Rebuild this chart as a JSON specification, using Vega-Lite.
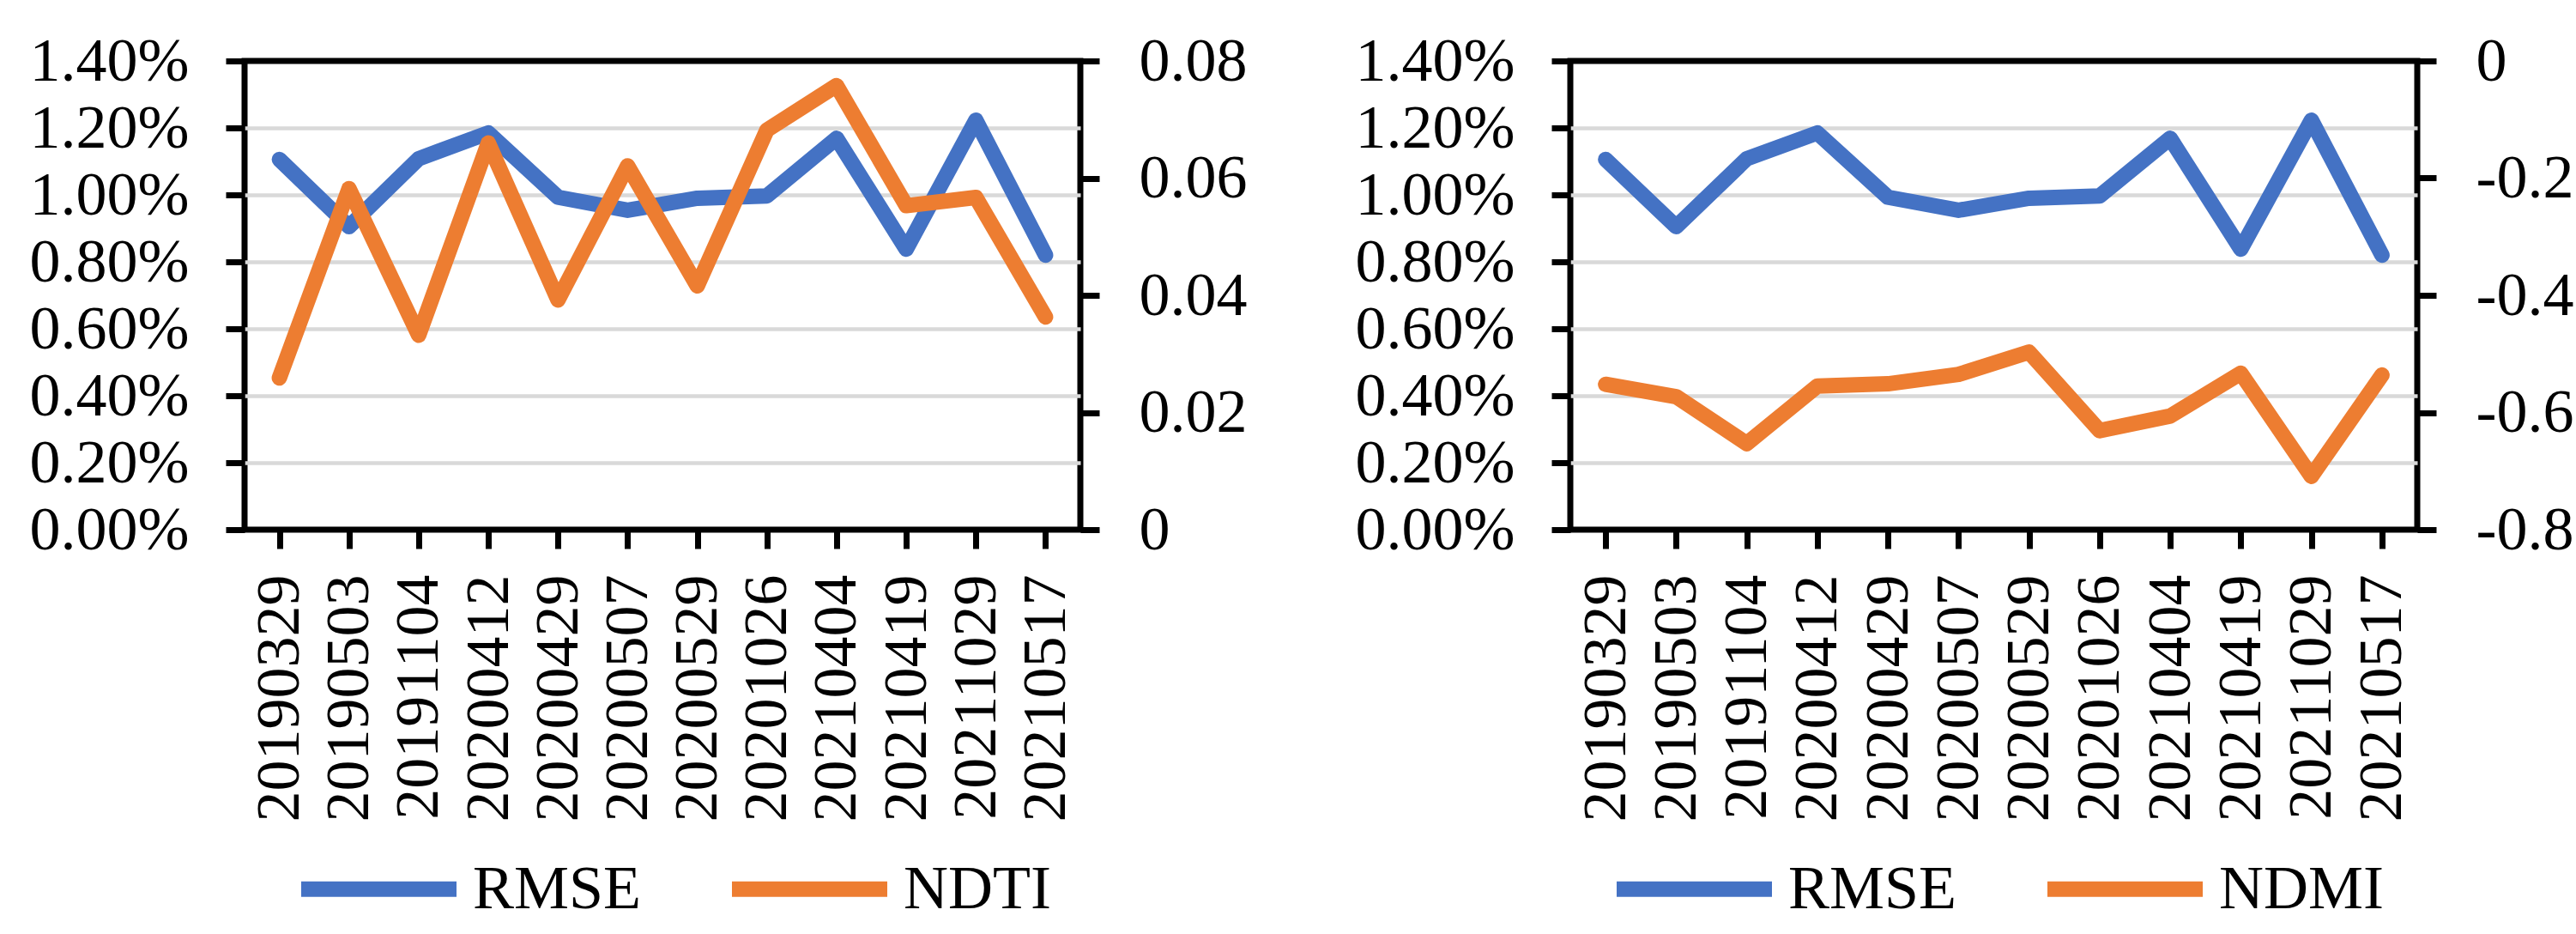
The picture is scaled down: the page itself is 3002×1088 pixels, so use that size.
{
  "$schema": "https://vega.github.io/schema/vega-lite/v6.json",
  "padding": {"left": 30, "top": 31, "right": 0, "bottom": 0},
  "background": "white",
  "datasets": {
    "series": [
      {"date": "20190329", "RMSE": 0.01106, "NDTI": 0.0259, "NDMI": -0.552},
      {"date": "20190503", "RMSE": 0.00905, "NDTI": 0.0582, "NDMI": -0.573},
      {"date": "20191104", "RMSE": 0.01108, "NDTI": 0.0332, "NDMI": -0.653},
      {"date": "20200412", "RMSE": 0.01185, "NDTI": 0.0660, "NDMI": -0.555},
      {"date": "20200429", "RMSE": 0.00993, "NDTI": 0.0392, "NDMI": -0.551},
      {"date": "20200507", "RMSE": 0.00954, "NDTI": 0.0621, "NDMI": -0.535},
      {"date": "20200529", "RMSE": 0.00990, "NDTI": 0.0416, "NDMI": -0.497},
      {"date": "20201026", "RMSE": 0.00997, "NDTI": 0.0682, "NDMI": -0.631},
      {"date": "20210404", "RMSE": 0.01169, "NDTI": 0.0758, "NDMI": -0.606},
      {"date": "20210419", "RMSE": 0.00838, "NDTI": 0.0553, "NDMI": -0.533},
      {"date": "20211029", "RMSE": 0.01223, "NDTI": 0.0567, "NDMI": -0.709},
      {"date": "20210517", "RMSE": 0.00820, "NDTI": 0.0363, "NDMI": -0.536}
    ]
  },
  "spacing": 118,
  "resolve": {"scale": {"color": "independent"}},
  "hconcat": [
    {
      "width": 974,
      "height": 546,
      "data": {"name": "series"},
      "encoding": {
        "x": {
          "field": "date", "type": "ordinal", "sort": null, "title": null,
          "axis": {"labelAngle": -90, "labelPadding": 30}
        }
      },
      "layer": [
        {
          "mark": {"type": "line", "strokeWidth": 18, "strokeCap": "round", "strokeJoin": "round"},
          "encoding": {
            "y": {
              "field": "RMSE", "type": "quantitative", "title": null,
              "scale": {"domain": [0, 0.014], "nice": false, "zero": false},
              "axis": {
                "orient": "left", "format": ".2%",
                "values": [0, 0.002, 0.004, 0.006, 0.008, 0.01, 0.012, 0.014],
                "grid": true, "gridColor": "#D9D9D9", "gridWidth": 4.5,
                "gridOpacity": {"condition": {"test": "datum.value <= 0 || datum.value >= 0.0139", "value": 0}, "value": 1},
                "labelPadding": 43
              }
            },
            "color": {
              "datum": "RMSE", "type": "nominal",
              "scale": {"domain": ["RMSE", "NDTI"], "range": ["#4472C4", "#ED7D31"]},
              "legend": {"orient": "none", "legendX": 57, "legendY": 865, "direction": "horizontal", "title": null}
            }
          }
        },
        {
          "mark": {"type": "line", "strokeWidth": 18, "strokeCap": "round", "strokeJoin": "round"},
          "encoding": {
            "y": {
              "field": "NDTI", "type": "quantitative", "title": null,
              "scale": {"domain": [0, 0.08], "nice": false, "zero": false},
              "axis": {
                "orient": "right", "format": ".2~f",
                "values": [0, 0.02, 0.04, 0.06, 0.08],
                "grid": false, "labelPadding": 46
              }
            },
            "color": {"datum": "NDTI", "type": "nominal"}
          }
        }
      ],
      "resolve": {"scale": {"y": "independent"}}
    },
    {
      "width": 987,
      "height": 546,
      "data": {"name": "series"},
      "encoding": {
        "x": {
          "field": "date", "type": "ordinal", "sort": null, "title": null,
          "axis": {"labelAngle": -90, "labelPadding": 30}
        }
      },
      "layer": [
        {
          "mark": {"type": "line", "strokeWidth": 18, "strokeCap": "round", "strokeJoin": "round"},
          "encoding": {
            "y": {
              "field": "RMSE", "type": "quantitative", "title": null,
              "scale": {"domain": [0, 0.014], "nice": false, "zero": false},
              "axis": {
                "orient": "left", "format": ".2%",
                "values": [0, 0.002, 0.004, 0.006, 0.008, 0.01, 0.012, 0.014],
                "grid": true, "gridColor": "#D9D9D9", "gridWidth": 4.5,
                "gridOpacity": {"condition": {"test": "datum.value <= 0 || datum.value >= 0.0139", "value": 0}, "value": 1},
                "labelPadding": 43
              }
            },
            "color": {
              "datum": "RMSE", "type": "nominal",
              "scale": {"domain": ["RMSE", "NDMI"], "range": ["#4472C4", "#ED7D31"]},
              "legend": {"orient": "none", "legendX": 45, "legendY": 865, "direction": "horizontal", "title": null}
            }
          }
        },
        {
          "mark": {"type": "line", "strokeWidth": 18, "strokeCap": "round", "strokeJoin": "round"},
          "encoding": {
            "y": {
              "field": "NDMI", "type": "quantitative", "title": null,
              "scale": {"domain": [-0.8, 0], "nice": false, "zero": false},
              "axis": {
                "orient": "right",
                "values": [-0.8, -0.6, -0.4, -0.2, 0],
                "labelExpr": "datum.value == 0 ? '0' : '-' + format(abs(datum.value), '.1f')",
                "grid": false, "labelPadding": 46
              }
            },
            "color": {"datum": "NDMI", "type": "nominal"}
          }
        }
      ],
      "resolve": {"scale": {"y": "independent"}}
    }
  ],
  "config": {
    "view": {"stroke": "black", "strokeWidth": 7},
    "font": "Liberation Serif",
    "axis": {
      "labelFont": "Liberation Serif", "labelFontSize": 72, "labelColor": "black",
      "labelLimit": 0, "labelOverlap": false, "labelFlush": false,
      "domain": false, "ticks": true, "tickSize": 22, "tickWidth": 7, "tickColor": "black",
      "grid": false
    },
    "legend": {
      "labelFont": "Liberation Serif", "labelFontSize": 72, "labelColor": "black", "labelLimit": 0,
      "symbolType": "stroke", "symbolSize": 32761, "symbolStrokeWidth": 18,
      "labelOffset": 10, "columnPadding": 69, "padding": 0, "rowPadding": 0
    }
  }
}
